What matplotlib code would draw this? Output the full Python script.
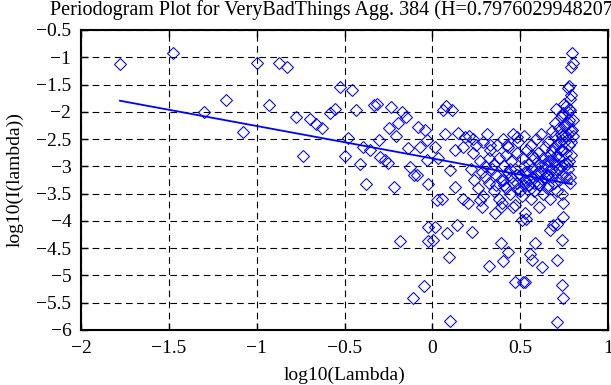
import matplotlib
matplotlib.use("Agg")
import matplotlib.pyplot as plt

plt.rcParams['font.family'] = ['Liberation Serif', 'DejaVu Serif']

# periodogram points: sparse part
sparse_x = [-1.778, -1.475, -1.302, -1.173, -1.078, -0.997, -0.932, -0.875, -0.826,
            -0.776, -0.735, -0.697, -0.663, -0.630, -0.583, -0.554, -0.526, -0.497,
            -0.479, -0.460, -0.435, -0.412, -0.397, -0.378, -0.355, -0.332, -0.314,
            -0.302, -0.298, -0.270, -0.251, -0.249, -0.236, -0.219, -0.207, -0.194,
            -0.184, -0.170, -0.150, -0.137, -0.128, -0.112, -0.103, -0.090, -0.080,
            -0.070, -0.048, -0.042, -0.032, -0.032, -0.025, -0.025, -0.025]
sparse_y = [-1.12, -0.93, -2.00, -1.79, -2.37, -1.11, -1.88, -1.11, -1.17,
            -2.09, -2.81, -2.14, -2.23, -2.30, -2.03, -1.94, -1.54, -2.81,
            -2.48, -1.60, -1.97, -2.96, -2.64, -3.33, -2.70, -1.88, -1.85,
            -2.52, -2.82, -2.89, -2.93, -2.29, -1.91, -3.38, -2.44, -2.20,
            -4.37, -2.00, -2.10, -2.67, -3.01, -5.42, -3.15, -3.16, -2.27,
            -2.64, -5.19, -2.33, -2.52, -2.89, -3.33, -4.11, -4.37]

# right part, outliers and edge of the cluster
right_x = [0.005, 0.015, 0.015, 0.025, 0.034, 0.053, 0.062, 0.072, 0.077, 0.081,
           0.094, 0.100, 0.100, 0.110, 0.129, 0.129, 0.138, 0.147, 0.176, 0.176,
           0.186, 0.204, 0.224, 0.233, 0.271, 0.280, 0.324, 0.328, 0.356, 0.389,
           0.394, 0.404, 0.423, 0.432, 0.460, 0.470, 0.480, 0.508, 0.517, 0.527,
           0.536, 0.555, 0.565, 0.584, 0.622, 0.669, 0.688, 0.703, 0.707, 0.707,
           0.707, 0.736, 0.736, 0.745, 0.745, 0.745, 0.745, 0.764, 0.774, 0.780,
           0.783, 0.783, 0.783, 0.783, 0.789, 0.793, 0.796, 0.798, 0.800]
right_y = [-4.35, -2.64, -4.11, -3.62, -2.85, -3.59, -1.97, -2.40, -1.90, -4.23,
           -4.67, -3.07, -5.84, -1.97, -2.70, -3.37, -4.08, -2.38, -2.64, -3.59,
           -2.46, -3.68, -4.20, -2.49, -3.62, -3.74, -4.82, -2.61, -3.86, -4.41,
           -3.68, -4.73, -2.61, -4.57, -3.74, -5.12, -2.46, -3.99, -5.12, -5.12,
           -3.96, -4.60, -4.72, -4.41, -4.84, -4.17, -4.08, -1.94, -4.72, -4.05,
           -5.85, -4.35, -5.18, -2.03, -3.93, -3.68, -5.42, -2.95, -1.57, -1.53,
           -1.77, -1.97, -3.19, -3.31, -1.17, -2.33, -0.93, -1.11, -2.15]

# dense cluster between 0.2 and 0.8
dense_x = [0.21, 0.22, 0.23, 0.24, 0.25, 0.26, 0.27, 0.28, 0.29, 0.29, 0.30, 0.30,
           0.31, 0.32, 0.32, 0.33, 0.34, 0.35, 0.35, 0.36, 0.37, 0.38, 0.38, 0.39,
           0.39, 0.40, 0.41, 0.41, 0.42, 0.43, 0.43, 0.44, 0.45, 0.45, 0.46, 0.47,
           0.47, 0.48, 0.48, 0.49, 0.49, 0.50, 0.51, 0.51, 0.52, 0.52, 0.53, 0.53,
           0.54, 0.54, 0.55, 0.55, 0.56, 0.56, 0.57, 0.57, 0.58, 0.58, 0.59, 0.59,
           0.60, 0.60, 0.61, 0.61, 0.62, 0.62, 0.63, 0.63, 0.64, 0.64, 0.65, 0.65,
           0.66, 0.66, 0.67, 0.67, 0.68, 0.68, 0.69, 0.69, 0.70, 0.70, 0.71, 0.71,
           0.72, 0.72, 0.72, 0.73, 0.73, 0.73, 0.74, 0.74, 0.74, 0.75, 0.75, 0.75,
           0.76, 0.76, 0.76, 0.77, 0.77, 0.77, 0.78, 0.78, 0.78, 0.79, 0.79, 0.79]
dense_y = [-2.45, -3.05, -2.75, -3.25, -2.60, -3.40, -2.90, -3.10, -3.55, -2.55,
           -3.00, -3.20, -2.40, -2.85, -3.30, -2.70, -3.05, -3.45, -2.95, -3.15,
           -2.60, -3.60, -2.85, -3.25, -3.75, -2.50, -3.00, -3.35, -2.80, -3.10,
           -2.65, -3.50, -2.90, -3.20, -2.40, -3.05, -3.70, -2.75, -3.30, -3.40,
           -2.55, -3.15, -2.85, -3.55, -3.00, -2.45, -3.25, -3.85, -2.70, -3.10,
           -2.95, -3.35, -3.60, -2.60, -3.20, -3.05, -2.85, -3.45, -3.15, -2.50,
           -3.30, -2.75, -2.95, -3.75, -2.40, -3.10, -3.50, -2.85, -3.20, -2.65,
           -3.00, -3.40, -2.55, -3.15, -2.80, -3.60, -2.35, -3.05, -3.30, -2.90,
           -2.20, -3.10, -2.60, -3.45, -2.30, -2.85, -3.25, -2.10, -2.70, -3.00,
           -2.45, -3.15, -3.50, -1.85, -2.55, -2.95, -2.25, -2.75, -3.20, -2.00,
           -2.40, -3.05, -2.15, -2.60, -2.90, -1.70, -2.35, -2.80]

# extra points in the core of the cluster, where the diamonds pile up
core_x = [0.36, 0.40, 0.42, 0.44, 0.46, 0.48, 0.50, 0.52, 0.53, 0.55, 0.56, 0.57,
          0.58, 0.60, 0.61, 0.62, 0.63, 0.64, 0.65, 0.66, 0.67, 0.68, 0.69, 0.70,
          0.71, 0.72, 0.73, 0.74, 0.75, 0.76, 0.77, 0.78, 0.79, 0.80, 0.76, 0.74,
          0.72, 0.70, 0.68, 0.66]
core_y = [-3.35, -3.25, -3.40, -3.05, -3.30, -3.15, -3.45, -3.35, -3.10, -3.25,
          -3.40, -2.80, -3.30, -3.10, -3.35, -3.00, -3.25, -2.95, -3.15, -3.35,
          -2.90, -3.20, -2.65, -2.95, -2.80, -2.55, -2.40, -2.70, -2.25, -2.45,
          -2.20, -1.95, -2.55, -2.45, -1.90, -2.05, -3.05, -2.45, -2.70, -2.90]

# least squares fit line (end points)
fit_x = [-1.778, 0.794]
fit_y = [-1.797, -3.327]
hurst = "0.797602994820775"

x_ticks = [-2, -1.5, -1, -0.5, 0, 0.5, 1]
y_ticks = [-6, -5.5, -5, -4.5, -4, -3.5, -3, -2.5, -2, -1.5, -1, -0.5]


def label(v):
    return ('%g' % v).replace('-', '\u2212')


fig = plt.figure(figsize=(6.11, 3.85), dpi=100)
ax = fig.add_axes([81 / 611, 55 / 385, 527 / 611, 300 / 385])

blue = (0, 0, 1)
for xs, ys in [(sparse_x, sparse_y), (right_x, right_y), (dense_x, dense_y),
               (core_x, core_y)]:
    ax.plot(xs, ys, linestyle='none', marker='D', ms=6.5, mfc='none',
            mec=blue, mew=0.75)
ax.plot(fit_x, fit_y, color=blue, lw=1.3)

ax.set_xlim(-2, 1)
ax.set_ylim(-6, -0.5)
ax.set_xticks(x_ticks)
ax.set_yticks(y_ticks)
ax.set_xticklabels([label(t) for t in x_ticks])
ax.set_yticklabels([label(t) for t in y_ticks])
ax.grid(True, color='black', linestyle=(0, (6, 4)), linewidth=0.8)
ax.tick_params(direction='in', length=5, width=1, top=True, right=True,
               labelsize=14)
ax.tick_params(axis='x', pad=7)
ax.tick_params(axis='y', pad=7)
for s in ax.spines.values():
    s.set_linewidth(1.5)

ax.set_xlabel('log10(Lambda)', fontsize=14, labelpad=7)
ax.set_ylabel('log10(I(lambda))', fontsize=14, labelpad=9)
ax.set_title('Periodogram Plot for VeryBadThings Agg. 384 (H=' + hurst + ')',
             fontsize=14.5, pad=11)

fig.savefig('out.png', dpi=100)
